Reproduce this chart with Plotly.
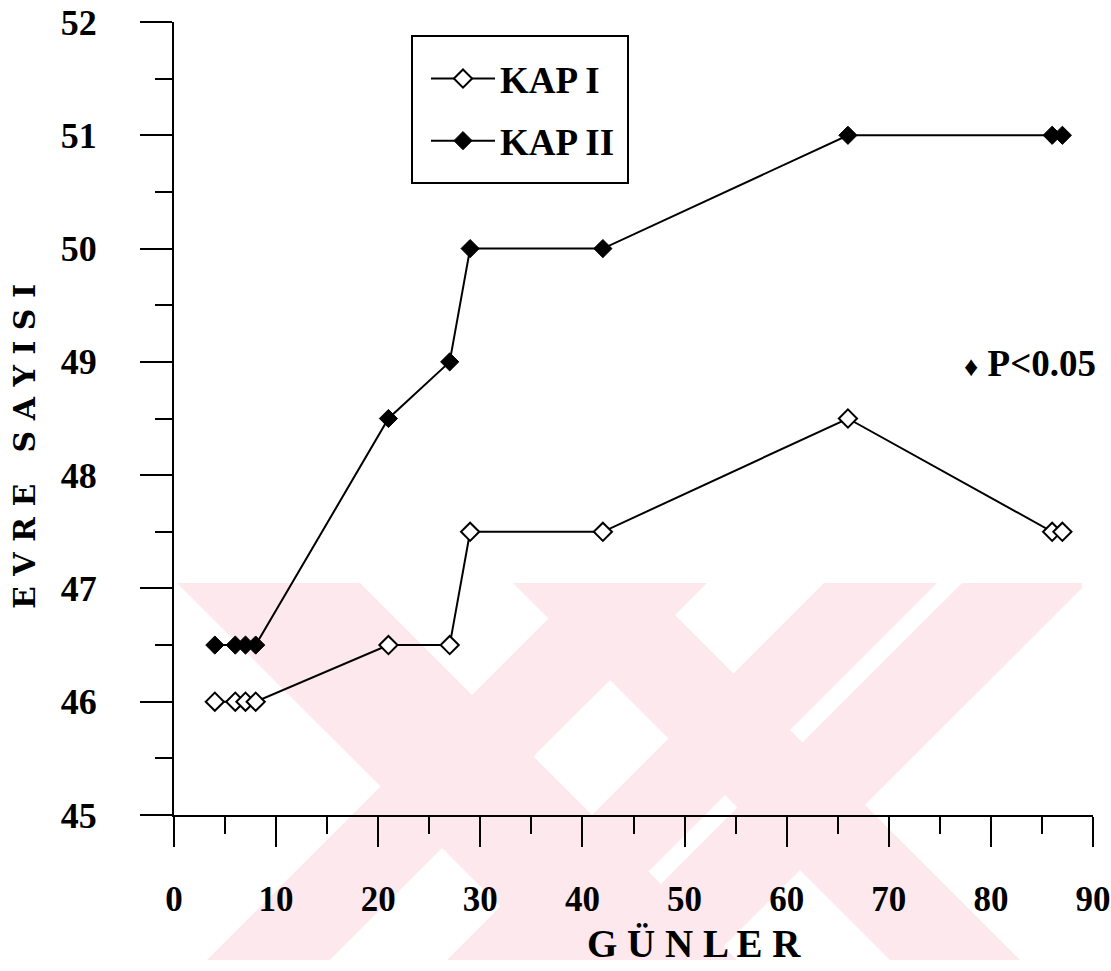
import plotly.graph_objects as go

# ---- data ----
days = [4, 6, 7, 8, 21, 27, 29, 42, 66, 86, 87]
kap1 = [46, 46, 46, 46, 46.5, 46.5, 47.5, 47.5, 48.5, 47.5, 47.5]
kap2 = [46.5, 46.5, 46.5, 46.5, 48.5, 49, 50, 50, 51, 51, 51]
x_ticks = [0, 10, 20, 30, 40, 50, 60, 70, 80, 90]
y_ticks = [45, 46, 47, 48, 49, 50, 51, 52]
series_names = ["KAP I", "KAP II"]

W, H = 1111, 971
ML, MR, MT, MB = 174, 18, 22, 156
PW, PH = W - ML - MR, H - MT - MB


def px(xp, yp):
    """pixel -> paper coordinates (decoration only)"""
    return (xp - ML) / PW, (H - MB - yp) / PH


def path_of(points):
    pts = [px(a, b) for a, b in points]
    return "M " + " L ".join(f"{a:.4f},{b:.4f}" for a, b in pts) + " Z"


def clip_x(points, xmin, xmax):
    def clip(pts, inside, inter):
        out = []
        n = len(pts)
        for i in range(n):
            cur, prev = pts[i], pts[i - 1]
            if inside(cur):
                if not inside(prev):
                    out.append(inter(prev, cur))
                out.append(cur)
            elif inside(prev):
                out.append(inter(prev, cur))
        return out

    def ix(xc):
        def f(p, q):
            t = (xc - p[0]) / (q[0] - p[0])
            return (xc, p[1] + t * (q[1] - p[1]))
        return f
    pts = clip(points, lambda p: p[0] >= xmin, ix(xmin))
    if pts:
        pts = clip(pts, lambda p: p[0] <= xmax, ix(xmax))
    return pts


# watermark (pale diagonal bands of the scanned page)
WM_X0, WM_X1, WM_Y0, WM_Y1 = 172, 1082, 583, 960
PINK = "rgb(252,232,237)"
bands = [("\\", -406, -223), ("/", 1167, 1290), ("/", 1407, 1520),
         ("/", 1545, 1670), ("\\", -70, 60)]
shapes = []
for kind, a, b in bands:
    if kind == "/":
        pts = [(a - WM_Y0, WM_Y0), (b - WM_Y0, WM_Y0), (b - WM_Y1, WM_Y1), (a - WM_Y1, WM_Y1)]
    else:
        pts = [(a + WM_Y0, WM_Y0), (b + WM_Y0, WM_Y0), (b + WM_Y1, WM_Y1), (a + WM_Y1, WM_Y1)]
    pts = clip_x(pts, WM_X0, WM_X1)
    if len(pts) >= 3:
        shapes.append(dict(type="path", xref="paper", yref="paper", path=path_of(pts),
                           fillcolor=PINK, line=dict(width=0), layer="below"))

# legend frame
lx0, ly0 = px(412, 36)
lx1, ly1 = px(628, 183)
shapes.append(dict(type="rect", xref="paper", yref="paper", x0=lx0, x1=lx1, y0=ly1, y1=ly0,
                   line=dict(color="black", width=2), fillcolor="white", layer="below"))

font_num = "Liberation Serif"

fig = go.Figure()
fig.add_trace(go.Scatter(
    x=days, y=kap1, name=series_names[0], mode="lines+markers",
    line=dict(color="black", width=2),
    marker=dict(symbol="diamond", size=14, color="white",
                line=dict(color="black", width=2)),
    legendgroup="a",
))
fig.add_trace(go.Scatter(
    x=days, y=kap2, name=series_names[1], mode="lines+markers",
    line=dict(color="black", width=2),
    marker=dict(symbol="diamond", size=14, color="black",
                line=dict(color="black", width=1)),
    legendgroup="b",
))

axis_common = dict(
    showgrid=False, zeroline=False, showline=True, linecolor="black",
    linewidth=2, ticks="outside", tickcolor="black", tickwidth=2,
    ticklabeloverflow="allow", automargin=False,
)

fig.update_layout(
    width=W, height=H,
    margin=dict(l=ML, r=MR, t=MT, b=MB, pad=0, autoexpand=False),
    paper_bgcolor="white", plot_bgcolor="rgba(0,0,0,0)",
    shapes=shapes,
    xaxis=dict(
        range=[0, 90], tickvals=x_ticks, ticklen=30,
        minor=dict(ticks="outside", dtick=5, ticklen=17, tickwidth=2,
                   tickcolor="black"),
        tickfont=dict(family=font_num, size=35, color="black", weight="bold"),
        ticklabelstandoff=22,
        **axis_common,
    ),
    yaxis=dict(
        range=[45, 52], tickvals=y_ticks, ticklen=32,
        minor=dict(ticks="outside", dtick=0.5, ticklen=17, tickwidth=2,
                   tickcolor="black"),
        tickfont=dict(family=font_num, size=36, color="black", weight="bold"),
        ticklabelstandoff=36,
        **axis_common,
    ),
    legend=dict(
        x=px(426, 0)[0], y=px(0, 48)[1], xanchor="left", yanchor="top",
        borderwidth=0, bgcolor="rgba(0,0,0,0)",
        font=dict(family=font_num, size=37, color="black", weight="bold"),
        itemwidth=64, tracegroupgap=11, traceorder="grouped",
    ),
    showlegend=True,
    annotations=[
        dict(text="G Ü N L E R", xref="paper", yref="paper",
             x=px(694, 0)[0], y=px(0, 943)[1], showarrow=False,
             xanchor="center", yanchor="middle",
             font=dict(family=font_num, size=39, color="black", weight="bold")),
        dict(text="E V R E   S A Y I S I", xref="paper", yref="paper",
             x=px(24, 0)[0], y=px(0, 447)[1], showarrow=False, textangle=-90,
             xanchor="center", yanchor="middle",
             font=dict(family="DejaVu Serif", size=30, color="black", weight="bold")),
        dict(text="<span style='font-size:28px'>♦</span> P<0.05", xref="paper", yref="paper",
             x=px(1030, 0)[0], y=px(0, 364)[1], showarrow=False,
             xanchor="center", yanchor="middle",
             font=dict(family=font_num, size=37, color="black", weight="bold")),
    ],
)

fig.write_html("out.html")
